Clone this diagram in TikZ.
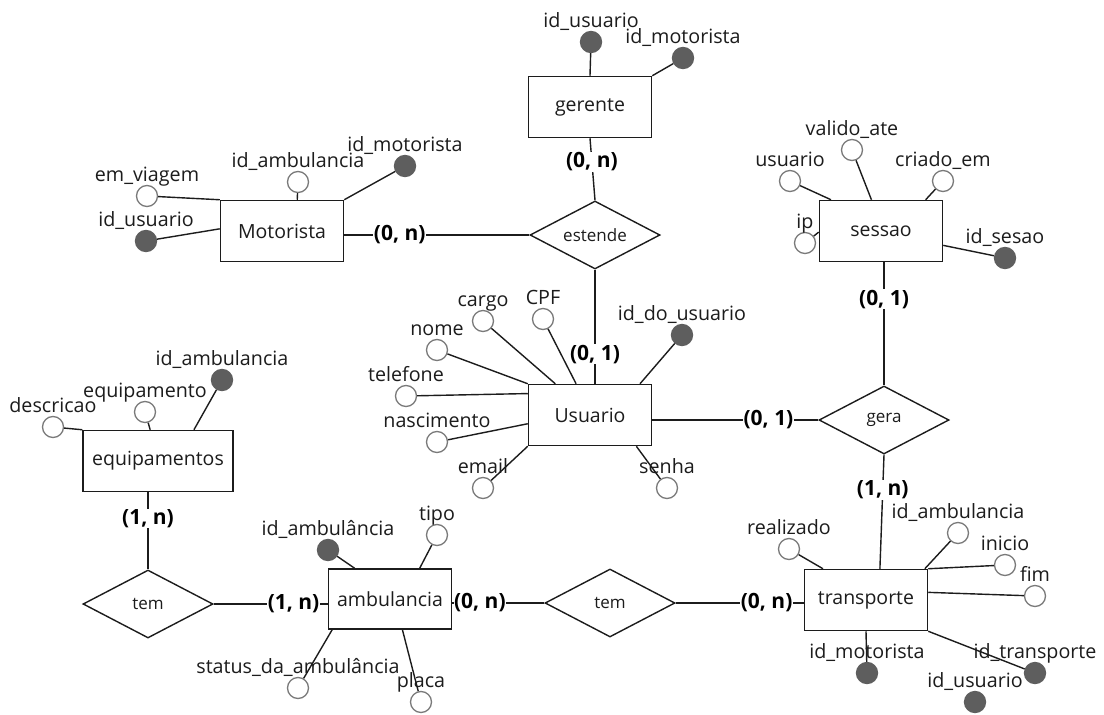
\documentclass[tikz,border=0pt]{standalone}
\usepackage{fontspec}
\setmainfont{Open Sans}
\usepackage{tikz}
\usetikzlibrary{positioning,shapes.geometric,calc}
\usepackage{xcolor}
\definecolor{keygray}{HTML}{5E5E5E}
\definecolor{ringgray}{HTML}{7A7A7A}
\definecolor{inkdark}{HTML}{1C1C1C}

\begin{document}
\begin{tikzpicture}[x=1pt, y=-1pt,
    entbox/.style={rectangle, draw=inkdark, line width=1.5pt, fill=white,
                   minimum width=123pt, minimum height=61pt, inner sep=0pt,
                   font=\fontsize{19.5}{22}\selectfont, text=inkdark},
    relbox/.style={diamond, draw=inkdark, line width=1.4pt, fill=white, aspect=1.9,
                   minimum width=130pt, minimum height=68pt, inner sep=0pt,
                   font=\fontsize{17}{19}\selectfont, text=inkdark},
    atrib/.style={circle, draw=ringgray, line width=1.3pt, fill=white,
                  minimum size=21pt, inner sep=0pt},
    chave/.style={atrib, draw=keygray, fill=keygray},
    lbl/.style={font=\fontsize{19.7}{22}\selectfont, text=inkdark, inner sep=0pt,
                text height=13.5pt, text depth=4.5pt, label distance=-1pt},
    link/.style={draw=inkdark, line width=1.4pt},
    card/.style={font=\bfseries\fontsize{21}{23}\selectfont, fill=white,
                 text=black, inner sep=0.5pt}
]
    \path[use as bounding box, fill=white] (0,0) rectangle (1104,715);

    \node[entbox] (ger) at (590,107) {gerente};
    \node[entbox] (mot) at (282,231) {Motorista};
    \node[entbox] (ses) at (881,231) {sessao};
    \node[entbox] (usu) at (590,415) {Usuario};
    \node[entbox, minimum width=150pt] (equ) at (158,461) {equipamentos};
    \node[entbox, minimum height=60pt] (amb) at (390,599) {ambulancia};
    \node[entbox] (tra) at (866,600) {transporte};

    \node[relbox] (est) at (595,235) {estende};
    \node[relbox] (gera) at (884,420) {gera};
    \node[relbox] (tem1) at (148,604) {tem};
    \node[relbox] (tem2) at (610,603) {tem};

    \draw[link] (ger.south) -- node[card, pos=0.38] {(0, n)} (est.north);
    \draw[link] (mot.east |- est.west) -- node[card, pos=0.30] {(0, n)} (est.west);
    \draw[link] (est.south) -- node[card, pos=0.74] {(0, 1)} (est.south |- usu.north);
    \draw[link] (gera.north |- ses.south) -- node[card, pos=0.30] {(0, 1)} (gera.north);
    \draw[link] (usu.east |- gera.west) -- node[card, pos=0.70] {(0, 1)} (gera.west);
    \draw[link] (gera.south) -- node[card, pos=0.31] {(1, n)} (tra.66);
    \draw[link] (tem1.north |- equ.south) -- node[card, pos=0.34] {(1, n)} (tem1.north);
    \draw[link] (tem1.east) -- node[card, pos=0.70] {(1, n)} (tem1.east -| amb.west);
    \draw[link] (amb.east |- tem2.west) -- node[card, pos=0.30] {(0, n)} (tem2.west);
    \draw[link] (tem2.east) -- node[card, pos=0.71] {(0, n)} (tem2.east -| tra.west);

    \node[chave, label={[lbl]above:id\_usuario}] (gerA1) at (591,42) {};
    \node[chave, label={[lbl]above:id\_motorista}] (gerA2) at (683,58) {};
    \draw[link] (gerA1) -- (ger.north);
    \draw[link] (gerA2) -- (ger.north east);

    \node[atrib, label={[lbl]above:em\_viagem}] (motA1) at (147,196) {};
    \node[chave, label={[lbl]above:id\_usuario}] (motA2) at (146,241) {};
    \node[atrib, label={[lbl]above:id\_ambulancia}] (motA3) at (298,182) {};
    \node[chave, label={[lbl]above:id\_motorista}] (motA4) at (405,166) {};
    \draw[link] (motA1) -- (mot.north west);
    \draw[link] (motA2) -- (mot.178);
    \draw[link] (motA3) -- (mot.64);
    \draw[link] (motA4) -- (mot.north east);

    \node[atrib, label={[lbl]above:usuario}] (sesA1) at (790,181) {};
    \node[atrib, label={[lbl]above:valido\_ate}] (sesA2) at (852,150) {};
    \node[atrib, label={[lbl]above:criado\_em}] (sesA3) at (943,181) {};
    \node[atrib, label={[lbl]above:ip}] (sesA4) at (805,243) {};
    \node[chave, label={[lbl]above:id\_sesao}] (sesA5) at (1005,258) {};
    \draw[link] (sesA1) -- (ses.148);
    \draw[link] (sesA2) -- (ses.107);
    \draw[link] (sesA3) -- (ses.35);
    \draw[link] (sesA4) -- (ses.181);
    \draw[link] (sesA5) -- (ses.347);

    \node[atrib, label={[lbl]above:cargo}] (usuA1) at (483,321) {};
    \node[atrib, label={[lbl]above:CPF}] (usuA2) at (543,319) {};
    \node[atrib, label={[lbl]above:nome}] (usuA3) at (437,350) {};
    \node[atrib, label={[lbl]above:telefone}] (usuA4) at (406,396) {};
    \node[atrib, label={[lbl]above:nascimento}] (usuA5) at (437,442) {};
    \node[atrib, label={[lbl]above:email}] (usuA6) at (483,488) {};
    \node[atrib, label={[lbl]above:senha}] (usuA7) at (667,488) {};
    \node[chave, label={[lbl]above:id\_do\_usuario}] (usuA8) at (682,335) {};
    \draw[link] (usuA1) -- (usu.138);
    \draw[link] (usuA2) -- (usu.114);
    \draw[link] (usuA3) -- (usu.north west);
    \draw[link] (usuA4) -- (usu.161);
    \draw[link] (usuA5) -- (usu.188);
    \draw[link] (usuA6) -- (usu.south west);
    \draw[link] (usuA7) -- (usu.326);
    \draw[link] (usuA8) -- (usu.32);

    \node[atrib, label={[lbl]above:descricao}] (equA1) at (53,427) {};
    \node[atrib, label={[lbl]above:equipamento}] (equA2) at (145,412) {};
    \node[chave, label={[lbl]above:id\_ambulancia}] (equA3) at (222,380) {};
    \draw[link] (equA1) -- (equ.north west);
    \draw[link] (equA2) -- (equ.104);
    \draw[link] (equA3) -- (equ.41);

    \node[chave, label={[lbl]above:id\_ambulância}] (ambA1) at (328,550) {};
    \node[atrib, label={[lbl]above:tipo}] (ambA2) at (437,535) {};
    \node[atrib, label={[lbl]above:status\_da\_ambulância}] (ambA3) at (298,688) {};
    \node[atrib, label={[lbl]above:placa}] (ambA4) at (421,702) {};
    \draw[link] (ambA1) -- (amb.139);
    \draw[link] (ambA2) -- (amb.46);
    \draw[link] (ambA3) -- (amb.208);
    \draw[link] (ambA4) -- (amb.292);

    \node[atrib, label={[lbl]above:realizado}] (traA1) at (789,549) {};
    \node[atrib, label={[lbl]above:id\_ambulancia}] (traA2) at (958,533) {};
    \node[atrib, label={[lbl]above:inicio}] (traA3) at (1005,565) {};
    \node[atrib, label={[lbl]above:fim}] (traA4) at (1035,596) {};
    \node[chave, label={[lbl]above:id\_motorista}] (traA5) at (867,673) {};
    \node[chave, label={[lbl]above:id\_transporte}] (traA6) at (1035,673) {};
    \node[chave, label={[lbl]above:id\_usuario}] (traA7) at (975,702) {};
    \draw[link] (traA1) -- (tra.144);
    \draw[link] (traA2) -- (tra.28);
    \draw[link] (traA3) -- (tra.north east);
    \draw[link] (traA4) -- (tra.7);
    \draw[link] (traA5) -- (tra.south);
    \draw[link] (traA6) -- (tra.south east);
\end{tikzpicture}
\end{document}
